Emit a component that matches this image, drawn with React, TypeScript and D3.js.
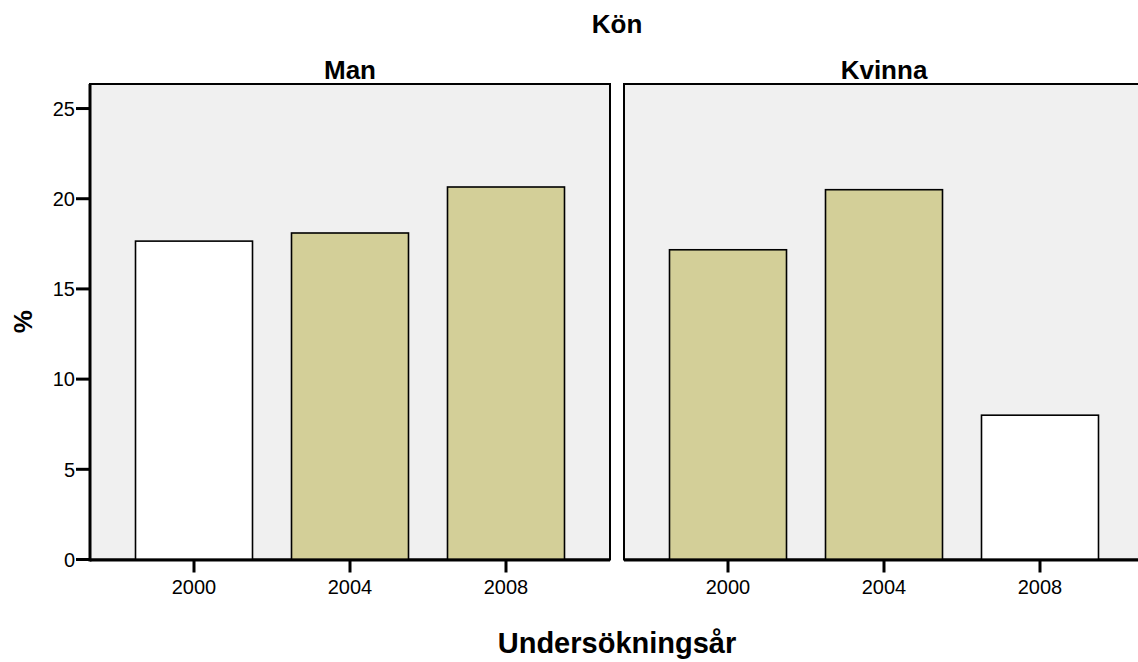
import React from "react";
import * as d3 from "d3";

const years = ["2000", "2004", "2008"];
const panels = ["Man", "Kvinna"];
const manValues = [17.65, 18.1, 20.65];
const kvinnaValues = [17.17, 20.5, 8.0];
const manFills = ["#ffffff", "#d3cf98", "#d3cf98"];
const kvinnaFills = ["#d3cf98", "#d3cf98", "#ffffff"];
const yTicks = [0, 5, 10, 15, 20, 25];
const title = "Kön";
const xTitle = "Undersökningsår";
const yTitle = "%";

const W = 1138;
const H = 662;
const panelW = 520;
const panelLefts = [90, 624];
const top = 84;
const bottom = 559.5;
const yMax = 26.36;
const font = "'Liberation Sans', Arial, Helvetica, sans-serif";

export default function App() {
  const y = d3.scaleLinear().domain([0, yMax]).range([bottom, top]);
  const x = d3.scaleBand<string>().domain(years).range([0, panelW]).paddingInner(0.25).paddingOuter(0.2917);
  const values = [manValues, kvinnaValues];
  const fills = [manFills, kvinnaFills];

  return (
    <svg width={W} height={H} style={{ position: "absolute", left: 0, top: 0, background: "#fff" }} fontFamily={font}>
      <text x={617} y={33} textAnchor="middle" fontSize={26} fontWeight="bold">{title}</text>
      {panels.map((p, i) => {
        const x0 = panelLefts[i];
        return (
          <g key={p}>
            <rect x={x0} y={top} width={panelW} height={bottom - top} fill="#f0f0f0" stroke="#000" strokeWidth={2} />
            <text x={x0 + panelW / 2} y={79} textAnchor="middle" fontSize={26} fontWeight="bold">{p}</text>
            {years.map((yr, j) => (
              <rect
                key={yr}
                x={x0 + (x(yr) as number)}
                y={y(values[i][j])}
                width={x.bandwidth()}
                height={bottom - y(values[i][j])}
                fill={fills[i][j]}
                stroke="#000"
                strokeWidth={1.6}
              />
            ))}
            <line x1={x0} x2={x0 + panelW} y1={bottom + 0.5} y2={bottom + 0.5} stroke="#000" strokeWidth={3} />
            {years.map((yr) => {
              const cx = x0 + (x(yr) as number) + x.bandwidth() / 2;
              return (
                <g key={yr}>
                  <line x1={cx} x2={cx} y1={bottom} y2={bottom + 13} stroke="#000" strokeWidth={3} />
                  <text x={cx} y={594} textAnchor="middle" fontSize={20}>{yr}</text>
                </g>
              );
            })}
          </g>
        );
      })}
      <line x1={90} x2={90} y1={top} y2={bottom + 2} stroke="#000" strokeWidth={3} />
      {yTicks.map((t) => (
        <g key={t}>
          <line x1={76} x2={90} y1={y(t)} y2={y(t)} stroke="#000" strokeWidth={3} />
          <text x={75} y={y(t)} dy="0.36em" textAnchor="end" fontSize={20}>{t}</text>
        </g>
      ))}
      <text transform={`translate(32,${(top + bottom) / 2}) rotate(-90)`} textAnchor="middle" fontSize={26} fontWeight="bold">{yTitle}</text>
      <text x={617} y={653} textAnchor="middle" fontSize={29} fontWeight="bold">{xTitle}</text>
    </svg>
  );
}
